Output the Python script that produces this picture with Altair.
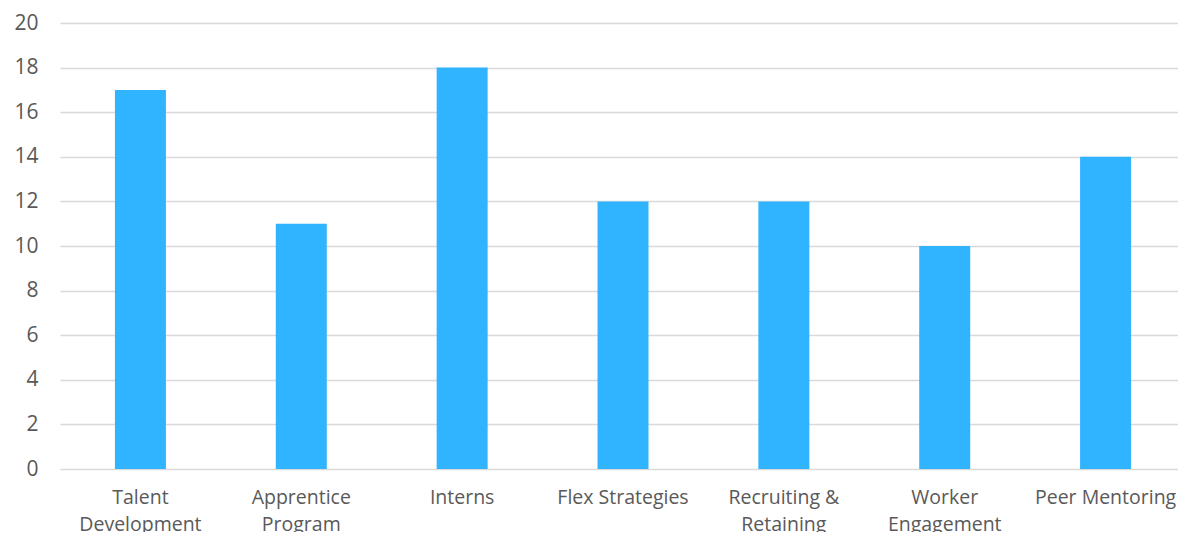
import altair as alt
import pandas as pd

categories = ["Talent Development", "Apprentice Program", "Interns", "Flex Strategies",
              "Recruiting & Retaining", "Worker Engagement", "Peer Mentoring"]
label_lines = [["Talent", "Development"], ["Apprentice", "Program"], ["Interns"],
               ["Flex Strategies"], ["Recruiting &", "Retaining"], ["Worker", "Engagement"],
               ["Peer Mentoring"]]
values = [17, 11, 18, 12, 12, 10, 14]
y_ticks = [0, 2, 4, 6, 8, 10, 12, 14, 16, 18, 20]

df = pd.DataFrame({"category": categories, "value": values})

def js_list(lines):
    return "[" + ",".join("'" + s.replace("'", "\\'") + "'" for s in lines) + "]"

expr = ""
for c, lines in zip(categories, label_lines):
    expr += f"datum.label == '{c}' ? {js_list(lines)} : "
expr += "datum.label"

FONT = "Open Sans"
GREY = "#595959"

chart = alt.Chart(df).mark_bar(size=51, color="#30B4FF").encode(
    x=alt.X("category:N", sort=categories,
            scale=alt.Scale(paddingInner=0, paddingOuter=0),
            axis=alt.Axis(title=None, labelAngle=0, labelExpr=expr, labelFont=FONT,
                          labelFontSize=19.5, labelColor=GREY, labelPadding=19,
                          labelLineHeight=27, ticks=False, domain=False, grid=False)),
    y=alt.Y("value:Q", scale=alt.Scale(domain=[0, 20], nice=False),
            axis=alt.Axis(title=None, values=y_ticks, labelFont=FONT, labelFontSize=21,
                          labelColor=GREY, labelPadding=22, ticks=False, domain=False,
                          grid=True, gridColor="#d9d9d9", gridWidth=1.5)),
).properties(
    width=1126, height=446,
    autosize=alt.AutoSizeParams(type="none"),
    padding={"left": 52, "top": 15, "right": -8, "bottom": 63},
).configure_view(stroke=None)

chart.save("out.html", embed_options={"renderer": "svg", "actions": False})
